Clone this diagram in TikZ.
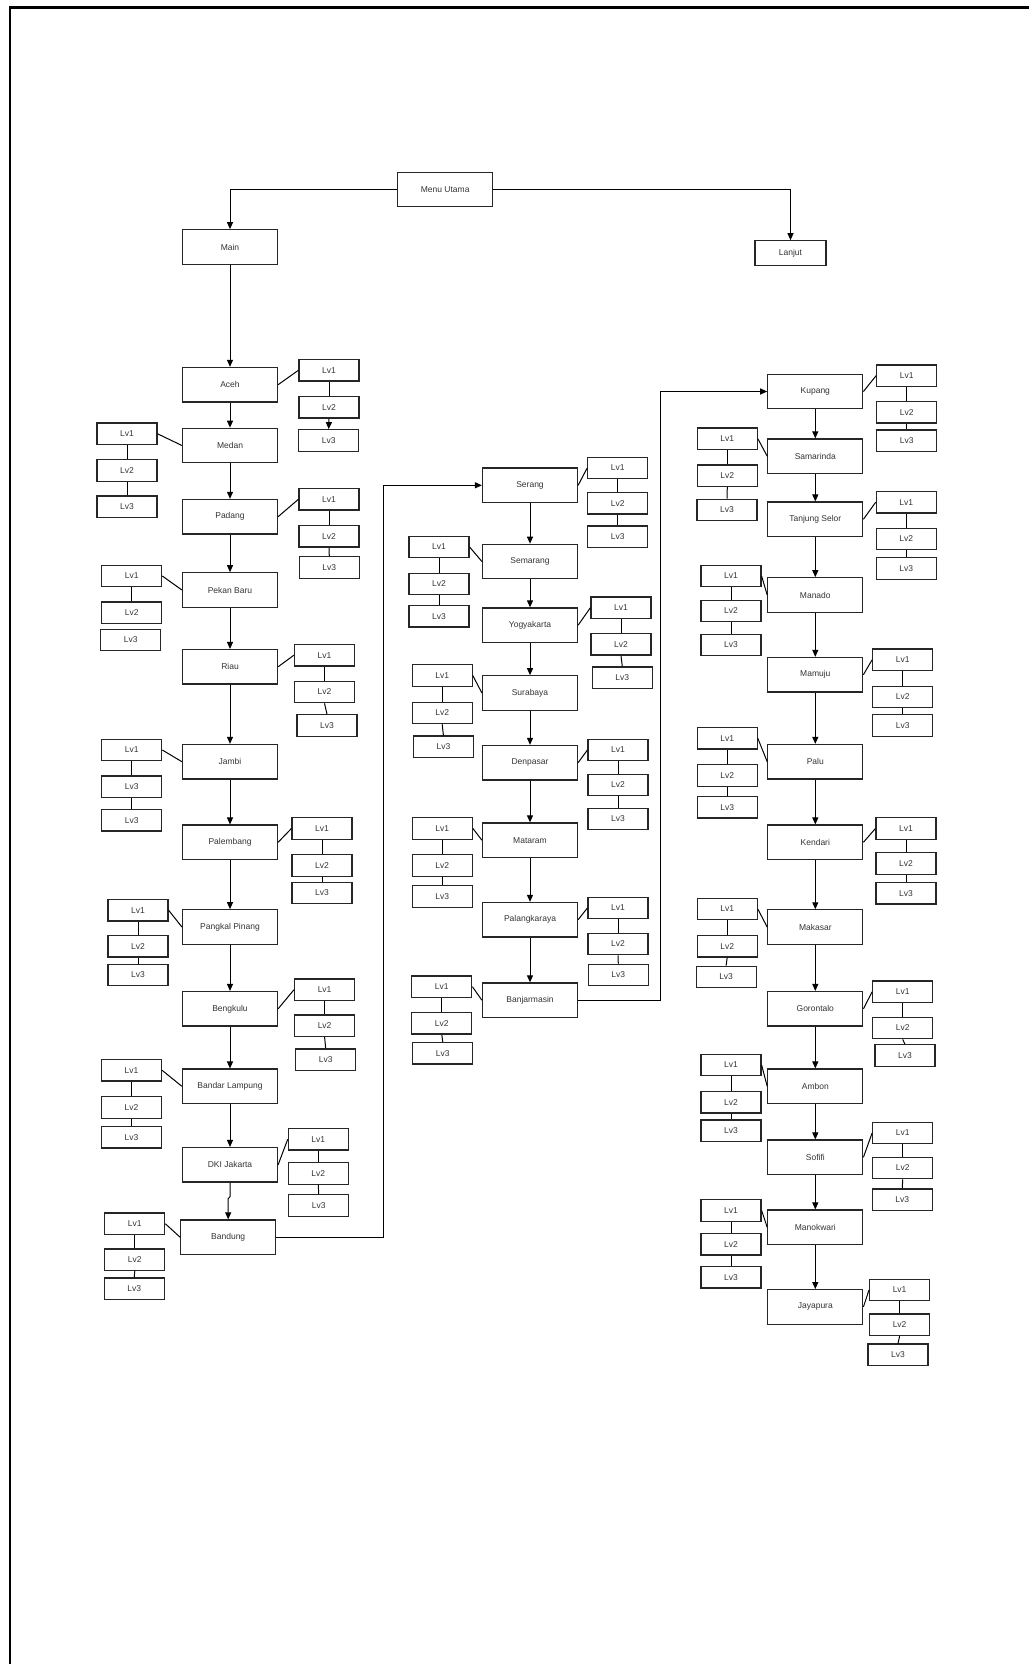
\documentclass[tikz,border=0pt]{standalone}
\usepackage{fontspec}
\setmainfont{Liberation Sans}
\usetikzlibrary{arrows.meta}
% #1 name, #2 x, #3 y1, #4 y2, #5 y3, #6 x of Lv3
\newcommand\lvgroup[6]{%
  \node[lv] (#1a) at (#2,#3) {Lv1};
  \node[lv] (#1b) at (#2,#4) {Lv2};
  \node[lv] (#1c) at (#6,#5) {Lv3};
}
\begin{document}
\begin{tikzpicture}[x=0.5pt,y=-0.5pt,
  box/.style={draw=black!85, line width=0.6pt, inner sep=0pt, text=black!80,
              font=\fontsize{4.25}{5}\selectfont},
  city/.style={box, minimum width=47.5pt, minimum height=17.25pt},
  lv/.style={box, minimum width=30pt, minimum height=10.75pt},
  conn/.style={draw=black, line width=0.5pt},
  arr/.style={conn, -{Triangle[length=3.5pt,width=3pt]}}]

\useasboundingbox (0,0) rectangle (1029,1664);
\draw[line width=1.2pt] (10,1664) -- (10,7.5) -- (1029,7.5);

% top level
\node[city, minimum height=17pt] (menu) at (445.2,189.5) {Menu Utama};
\node[city] (main) at (230,247) {Main};
\node[box, minimum width=35.5pt, minimum height=12.5pt] (lanjut) at (790.5,253.3) {Lanjut};

% left column
\node[city] (aceh) at (230,384.7) {Aceh};
\node[city] (medan) at (230,445.5) {Medan};
\node[city] (padang) at (230,516.7) {Padang};
\node[city] (pekan) at (230,590) {Pekan Baru};
\node[city] (riau) at (230,666.8) {Riau};
\node[city] (jambi) at (230,761.7) {Jambi};
\node[city] (palembang) at (230,842.3) {Palembang};
\node[city] (pangkal) at (230,927) {Pangkal Pinang};
\node[city] (bengkulu) at (230,1008.8) {Bengkulu};
\node[city] (bandar) at (230,1086.3) {Bandar Lampung};
\node[city] (dki) at (230,1164.8) {DKI Jakarta};
\node[city] (bandung) at (228.2,1237.2) {Bandung};

% middle column
\node[city] (serang) at (530,485.3) {Serang};
\node[city] (semarang) at (530,561.5) {Semarang};
\node[city] (yogya) at (530,625.2) {Yogyakarta};
\node[city] (surabaya) at (530,693) {Surabaya};
\node[city] (denpasar) at (530,762.7) {Denpasar};
\node[city] (mataram) at (530,840.2) {Mataram};
\node[city] (palangka) at (530,919.7) {Palangkaraya};
\node[city] (banjar) at (530,1000.2) {Banjarmasin};

% right column
\node[city] (kupang) at (815.3,391.5) {Kupang};
\node[city] (samarinda) at (815.3,456.2) {Samarinda};
\node[city] (tanjung) at (815.3,519.3) {Tanjung Selor};
\node[city] (manado) at (815.3,595) {Manado};
\node[city] (mamuju) at (815.3,674.7) {Mamuju};
\node[city] (palu) at (815.3,761.7) {Palu};
\node[city] (kendari) at (815.3,842.3) {Kendari};
\node[city] (makasar) at (815.3,927.1) {Makasar};
\node[city] (gorontalo) at (815.3,1008.8) {Gorontalo};
\node[city] (ambon) at (815.3,1086.3) {Ambon};
\node[city] (sofifi) at (815.3,1157.3) {Sofifi};
\node[city] (manokwari) at (815.3,1227.3) {Manokwari};
\node[city] (jayapura) at (815.3,1306.9) {Jayapura};

% level groups
\lvgroup{aceh}{329}{370.3}{407.3}{440.5}{328.7}
\lvgroup{medan}{127}{433.8}{470.5}{506.7}{127}
\lvgroup{padang}{329}{499.3}{536.3}{567.5}{329.3}
\lvgroup{pekan}{131.7}{576}{612.7}{640}{130.7}
\lvgroup{riau}{324.5}{655.2}{692}{725.5}{327}
\node[lv] (jambia) at (131.7,750) {Lv1};
\node[lv] (jambib) at (131.7,786.7) {Lv3};
\node[lv] (jambic) at (131.7,820.2) {Lv3};
\lvgroup{palembang}{322}{828.5}{865.6}{893}{322}
\lvgroup{pangkal}{138}{910.2}{946.2}{974.9}{138}
\lvgroup{bengkulu}{324.6}{989.7}{1025.8}{1059.7}{325.7}
\lvgroup{bandar}{131.5}{1070.3}{1107.5}{1137.2}{131.5}
\lvgroup{dki}{318.3}{1139.3}{1173.5}{1205.5}{318.7}
\lvgroup{bandung}{134.8}{1223.8}{1259.8}{1288.8}{134.2}

\lvgroup{serang}{617.8}{468}{503.3}{536.7}{617.8}
\lvgroup{semarang}{439}{547}{584}{616.2}{439}
\lvgroup{yogya}{621}{607.7}{644.3}{677.8}{622.3}
\lvgroup{surabaya}{442.2}{675.5}{712.9}{746.8}{443.4}
\lvgroup{denpasar}{618}{750}{785}{819}{618}
\lvgroup{mataram}{442.3}{828.5}{865.6}{896.4}{442.3}
\lvgroup{palangka}{618}{908}{944}{975}{618.3}
\lvgroup{banjar}{441.8}{986.7}{1023.3}{1053.3}{442.8}

\lvgroup{kupang}{906.7}{375.7}{412.3}{440.7}{906.7}
\lvgroup{samarinda}{727.3}{438.8}{475.8}{510}{727}
\lvgroup{tanjung}{906.3}{502.2}{539}{568.6}{906.3}
\lvgroup{manado}{731}{576}{611}{645}{731}
\lvgroup{mamuju}{902.7}{659.8}{697}{725.6}{902.7}
\lvgroup{palu}{727.2}{738.3}{775.4}{807.3}{727.2}
\lvgroup{kendari}{906}{828.5}{863.5}{893.2}{906}
\lvgroup{makasar}{727.2}{909}{946.2}{977}{726.1}
\lvgroup{gorontalo}{902.7}{991.8}{1028}{1055.5}{904.9}
\lvgroup{ambon}{731}{1065}{1102.2}{1130.8}{731}
\lvgroup{sofifi}{902.7}{1133}{1168}{1199.8}{902.3}
\lvgroup{manokwari}{731}{1210.4}{1244.3}{1277.2}{731}
\lvgroup{jayapura}{899.6}{1290}{1324.8}{1354.8}{898}

% top connectors
\draw[arr] (menu.west) -| (main.north);
\draw[arr] (menu.east) -| (lanjut.north);
\draw[arr] (main) -- (aceh);

% column arrows
\foreach \a/\b in {aceh/medan, medan/padang, padang/pekan, pekan/riau, riau/jambi,
  jambi/palembang, palembang/pangkal, pangkal/bengkulu, bengkulu/bandar, bandar/dki,
  serang/semarang, semarang/yogya, yogya/surabaya, surabaya/denpasar, denpasar/mataram,
  mataram/palangka, palangka/banjar,
  kupang/samarinda, samarinda/tanjung, tanjung/manado, manado/mamuju, mamuju/palu,
  palu/kendari, kendari/makasar, makasar/gorontalo, gorontalo/ambon, ambon/sofifi,
  sofifi/manokwari, manokwari/jayapura}
  \draw[arr] (\a.south) -- (\b.north);
\draw[arr] (dki.south) -- ++(0,14) -- ++(-1.8,2) -- (bandung.north);

% column links
\coordinate (j1) at (383.3,0);
\coordinate (j2) at (660.7,0);
\draw[arr] (bandung.east) -- (bandung.east -| j1) -- (serang.west -| j1) -- (serang.west);
\draw[arr] (banjar.east) -- (banjar.east -| j2) -- (kupang.west -| j2) -- (kupang.west);

% city to level links (right side)
\foreach \c in {aceh, padang, riau, palembang, bengkulu, dki,
  serang, yogya, denpasar, palangka,
  kupang, tanjung, mamuju, kendari, gorontalo, sofifi, jayapura}
  \draw[conn] (\c.east) -- (\c a.west);
% left side
\foreach \c in {medan, pekan, jambi, pangkal, bandar, bandung,
  semarang, surabaya, mataram, banjar,
  samarinda, manado, palu, makasar, ambon, manokwari}
  \draw[conn] (\c.west) -- (\c a.east);

% level chains
\foreach \c in {aceh, medan, padang, pekan, riau, jambi, palembang, pangkal, bengkulu,
  bandar, dki, bandung, serang, semarang, yogya, surabaya, denpasar, mataram, palangka,
  banjar, kupang, samarinda, tanjung, manado, mamuju, palu, kendari, makasar, gorontalo,
  ambon, sofifi, manokwari, jayapura}
  \draw[conn] (\c a.south) -- (\c b.north);
\foreach \c in {medan, padang, riau, jambi, palembang, pangkal, bengkulu,
  bandar, dki, bandung, serang, semarang, yogya, surabaya, denpasar, mataram, palangka,
  banjar, kupang, samarinda, tanjung, manado, mamuju, palu, kendari, makasar, gorontalo,
  ambon, sofifi, manokwari, jayapura}
  \draw[conn] (\c b.south) -- (\c c.north);
\draw[arr] (acehb.south) -- (acehc.north);
\end{tikzpicture}
\end{document}
